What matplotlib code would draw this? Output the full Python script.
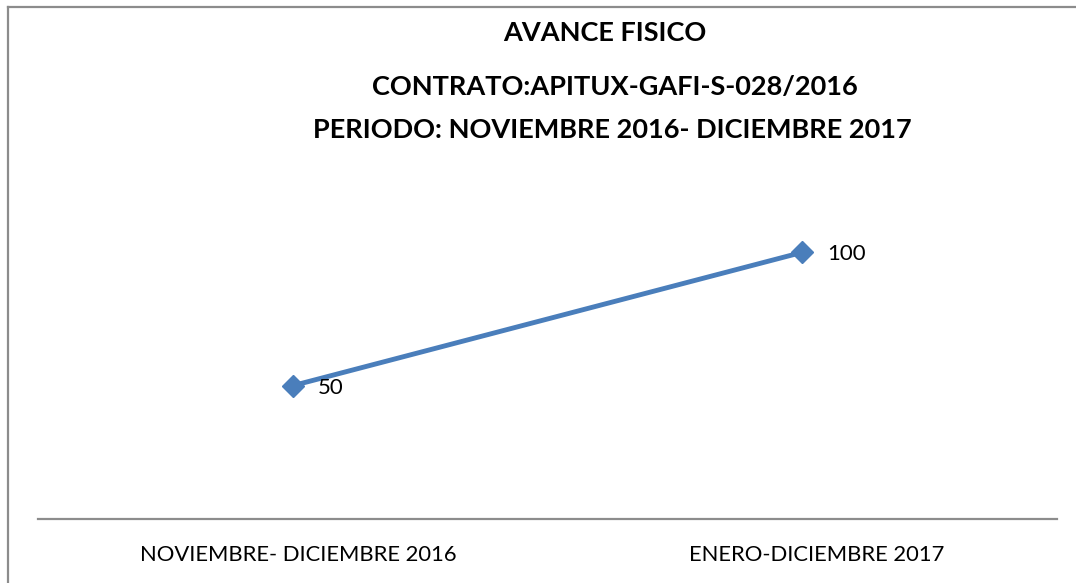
import matplotlib.pyplot as plt
from matplotlib.lines import Line2D
from matplotlib.transforms import ScaledTranslation

periodos = ["NOVIEMBRE- DICIEMBRE 2016", "ENERO-DICIEMBRE 2017"]
avance = [50, 100]

W, H = 1076, 583
plt.rcParams['font.family'] = ['Lato', 'DejaVu Sans']

fig = plt.figure(figsize=(W / 100, H / 100), dpi=100)
fig.patch.set_facecolor("white")

# border of the chart box: only left and top edges are visible in the original
bx, by = 8 / W, 1 - 7 / H
fig.add_artist(Line2D([bx, bx], [0, by], transform=fig.transFigure,
                      color="#8c8c8c", linewidth=1.6))
fig.add_artist(Line2D([bx, 1], [by, by], transform=fig.transFigure,
                      color="#8c8c8c", linewidth=1.6))

left, right, bottom, top = 38, 1057, 519, 199
ax = fig.add_axes([left / W, 1 - bottom / H, (right - left) / W, (bottom - top) / H])
ax.set_xlim(-0.5, 1.5)
ax.set_ylim(0, 120)

x = list(range(len(periodos)))
ax.plot(x, avance, color="#4a7ebb", linewidth=3.5, marker="D", markersize=11,
        solid_capstyle="round")
for xi, v in zip(x, avance):
    ax.annotate(str(v), (xi, v), xytext=(18, -1.5), textcoords="offset points",
                ha="left", va="center", fontsize=16, color="black")

for s in ["top", "right", "left"]:
    ax.spines[s].set_visible(False)
ax.spines["bottom"].set_color("#8c8c8c")
ax.spines["bottom"].set_linewidth(1.6)
ax.set_yticks([])
ax.set_xticks(x)
ax.set_xticklabels(periodos, fontsize=15.8)
ax.tick_params(axis="x", length=0, pad=19)
shifts = [6, 14]
for lbl, dx in zip(ax.get_xticklabels(), shifts):
    lbl.set_transform(lbl.get_transform() + ScaledTranslation(dx / 100, 0, fig.dpi_scale_trans))

fig.text(605 / W, 1 - 33 / H, "AVANCE FISICO", ha="center", va="center",
         fontsize=19.5, fontweight="bold")
fig.text(615 / W, 1 - 87 / H, "CONTRATO:APITUX-GAFI-S-028/2016", ha="center", va="center",
         fontsize=19.5, fontweight="bold")
fig.text(612 / W, 1 - 130 / H, "PERIODO: NOVIEMBRE 2016- DICIEMBRE 2017", ha="center",
         va="center", fontsize=19.5, fontweight="bold")

fig.savefig("out.png", dpi=100)
